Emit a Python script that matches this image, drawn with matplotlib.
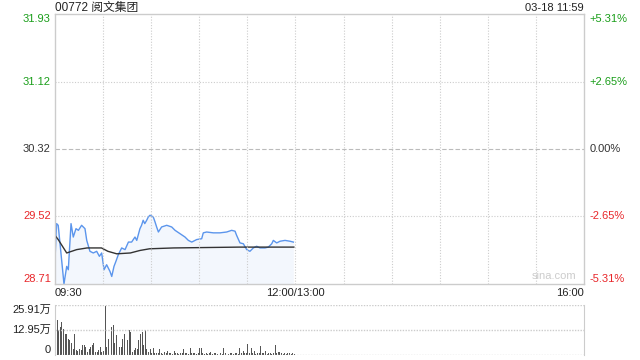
import matplotlib.pyplot as plt
from matplotlib.transforms import offset_copy

plt.rcParams['font.family'] = ['Liberation Sans', 'Noto Sans CJK SC']

title = "00772 阅文集团"
stamp = "03-18 11:59"
prev_close = 30.32
y_ticks = [28.71, 29.52, 30.32, 31.12, 31.93]
pct_labels = ["-5.31%", "-2.65%", "0.00%", "+2.65%", "+5.31%"]
x_labels = ["09:30", "12:00/13:00", "16:00"]

# minutes since 09:30 (lunch break removed, 330 minutes in the day)
minutes = [0, 1, 2, 3.5, 5.6, 7.3, 8.3, 10, 11.4, 13.1, 14.6, 16.6, 18.7, 19.8, 21.8,
           23.9, 26, 27.7, 29.1, 30.6, 32.2, 34.3, 35.4, 36.8, 38, 39.5, 41.6, 43.7,
           45.8, 47.8, 49.9, 51, 53, 54, 55, 56, 57.2, 58.2, 59.3, 61.3, 62.4, 63.4,
           64.5, 66.5, 69.7, 72.8, 74.9, 78, 81.1, 83.2, 85.3, 88.4, 91.5, 92.5, 94.6,
           98.8, 102.9, 107.1, 110.2, 112.3, 113.3, 115.4, 117.5, 119.6, 121.6, 123.7,
           125.8, 127.9, 131, 133.1, 135.2, 136.2, 138.3, 140.4, 143.5, 146.6, 148.7]
price = [29.00, 29.43, 29.41, 29.12, 28.71, 28.92, 28.88, 29.43, 29.27, 29.37, 29.35,
         29.41, 29.37, 29.23, 29.10, 29.08, 29.10, 29.04, 29.08, 28.88, 28.94, 28.86,
         28.80, 28.92, 28.98, 29.06, 29.14, 29.12, 29.21, 29.21, 29.27, 29.23, 29.37,
         29.41, 29.47, 29.43, 29.47, 29.51, 29.53, 29.51, 29.45, 29.39, 29.33, 29.39,
         29.41, 29.39, 29.35, 29.31, 29.27, 29.23, 29.21, 29.24, 29.25, 29.32, 29.33,
         29.32, 29.32, 29.33, 29.35, 29.34, 29.29, 29.20, 29.19, 29.12, 29.10, 29.14,
         29.16, 29.14, 29.14, 29.15, 29.19, 29.23, 29.20, 29.22, 29.23, 29.22, 29.21]

avg_minutes = [0, 2, 7.3, 13.5, 20, 29, 33, 38.5, 47, 53, 59, 74, 115, 149]
avg_price = [29.29, 29.24, 29.08, 29.12, 29.14, 29.14, 29.10, 29.07, 29.08, 29.11,
             29.13, 29.14, 29.15, 29.15]

# volume per minute, in 万
volume = [23.9, 17.9, 12.8, 14.5, 17.0, 13.6, 11.1, 11.0, 8.5, 7.7,
          6.0, 3.0, 11.0, 2.6, 2.2, 2.9, 2.4, 5.1, 5.1, 3.9,
          1.7, 2.9, 4.3, 5.1, 6.3, 1.7, 1.7, 2.4, 4.0, 1.7,
          1.9, 25.6, 4.3, 8.5, 5.5, 14.5, 15.3, 6.3, 10.2, 16.2,
          4.3, 3.9, 8.5, 11.0, 17.0, 7.7, 12.8, 11.9, 1.7, 2.6,
          3.4, 2.9, 7.7, 11.0, 11.9, 5.1, 13.1, 2.9, 1.7, 2.9,
          1.2, 3.5, 0.9, 1.1, 0.8, 3.3, 1.0, 0.7, 1.3, 0.9,
          2.2, 0.8, 1.0, 0.6, 2.0, 0.9, 1.2, 0.7, 1.0, 0.8,
          3.0, 1.1, 0.9, 0.7, 3.8, 1.0, 0.8, 1.2, 0.6, 0.9,
          3.8, 3.6, 1.0, 0.7, 0.8, 0.6, 0.9, 1.3, 0.7, 0.8,
          1.0, 0.6, 0.9, 1.1, 0.7, 3.5, 1.0, 0.8, 0.6, 0.9,
          1.2, 0.7, 0.8, 1.0, 0.6, 3.5, 0.9, 2.2, 0.8, 1.0,
          5.5, 1.1, 3.8, 0.9, 2.2, 0.7, 1.0, 0.8, 4.6, 0.9,
          1.1, 2.0, 0.7, 0.9, 1.2, 0.6, 0.8, 5.1, 1.0, 1.3,
          1.6, 0.9, 0.7, 1.0, 0.6, 1.2, 0.8, 0.7, 0.9, 0.5]
vol_ticks = [0, 12.95, 25.91]
vol_labels = ["0", "12.95万", "25.91万"]

green = "#1a9e1a"
red = "#e8262a"
grid_c = "#cccccc"
text_c = "#222222"

fig = plt.figure(figsize=(6.4, 3.6), dpi=100)
ax = fig.add_axes([55 / 640, 76 / 360, 529 / 640, 270 / 360])
axv = fig.add_axes([55 / 640, 5 / 360, 529 / 640, 50 / 360])

lo, hi = y_ticks[0], y_ticks[-1]
ax.set_xlim(0, 330)
ax.set_ylim(lo, hi)
ax.fill_between(minutes, price, lo, color="#e9f0fc", alpha=0.5, lw=0)
ax.plot(minutes, price, color="#5b95ec", lw=1)
ax.plot(avg_minutes, avg_price, color="#333333", lw=1)

for m in range(30, 330, 30):
    ax.axvline(m, color=grid_c, lw=0.8, ls=(0, (1, 1.5)))
for v in y_ticks[1:-1]:
    if v == prev_close:
        ax.axhline(v, color="#bbbbbb", lw=0.8, ls=(0, (4, 2)))
    else:
        ax.axhline(v, color=grid_c, lw=0.8, ls=(0, (1, 1.5)))

ax.set_xticks([])
ax.set_yticks([])
for s in ax.spines.values():
    s.set_color(grid_c)
    s.set_linewidth(1)

left_tr = offset_copy(ax.get_yaxis_transform(), fig=fig, x=-3, y=0, units="points")
right_tr = offset_copy(ax.get_yaxis_transform(), fig=fig, x=4, y=0, units="points")
for v, lab in zip(y_ticks, pct_labels):
    if v > prev_close:
        c = green
    elif v < prev_close:
        c = red
    else:
        c = "#333333"
    va = "top" if v == hi else ("bottom" if v == lo else "center")
    ax.text(0, v, f"{v:.2f}", transform=left_tr, ha="right", va=va, color=c,
            fontsize=8)
    ax.text(1, v, lab, transform=right_tr, ha="left", va=va, color=c, fontsize=8)

ax.text(0, -0.035, x_labels[0], transform=ax.transAxes, ha="left", va="center",
        fontsize=8, color=text_c)
ax.text(150 / 330, -0.035, x_labels[1], transform=ax.transAxes, ha="center",
        va="center", fontsize=8, color=text_c)
ax.text(1, -0.035, x_labels[2], transform=ax.transAxes, ha="right", va="center",
        fontsize=8, color=text_c)
ax.text(0, 1.022, title, transform=ax.transAxes, ha="left", va="center",
        fontsize=8.5, color=text_c)
ax.text(1, 1.022, stamp, transform=ax.transAxes, ha="right", va="center",
        fontsize=8, color=text_c)
ax.text(0.985, 0.01, "sina.com", transform=ax.transAxes, ha="right", va="bottom",
        fontsize=8, color="#cccccc")

axv.bar(range(len(volume)), volume, width=0.6, color="#555555", align="edge",
        lw=0, antialiased=False)
axv.set_xlim(0, 330)
axv.set_ylim(0, vol_ticks[-1])
axv.set_xticks([])
axv.set_yticks([])
for v in vol_ticks:
    axv.axhline(v, color=grid_c, lw=1, ls=(0, (1, 1)))
for side in ["top", "bottom"]:
    axv.spines[side].set_visible(False)
for side in ["left", "right"]:
    axv.spines[side].set_color(grid_c)
vleft_tr = offset_copy(axv.get_yaxis_transform(), fig=fig, x=-3, y=0, units="points")
for v, lab in zip(vol_ticks, vol_labels):
    va = "top" if v == vol_ticks[-1] else ("bottom" if v == 0 else "center")
    axv.text(0, v, lab, transform=vleft_tr, ha="right", va=va, fontsize=8,
             color=text_c)

fig.savefig("out.png", dpi=100)
